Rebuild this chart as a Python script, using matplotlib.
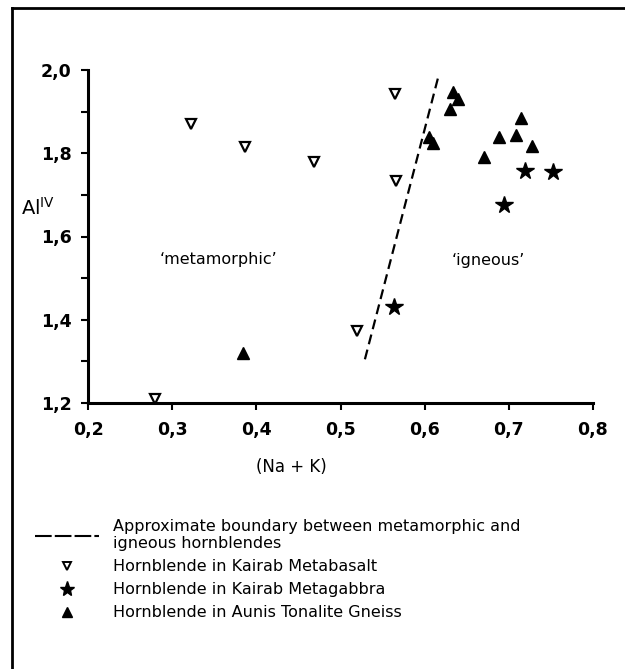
import numpy as np
import matplotlib
matplotlib.use("Agg")
import matplotlib.pyplot as plt
from matplotlib.lines import Line2D
from matplotlib.ticker import FuncFormatter, MultipleLocator

plt.rcParams['font.family'] = ['DejaVu Sans']

# --- data ---
basalt_x = [0.280, 0.322, 0.386, 0.468, 0.565, 0.566, 0.520]
basalt_y = [1.210, 1.870, 1.814, 1.778, 1.942, 1.733, 1.373]

gabbro_x = [0.563, 0.694, 0.719, 0.753]
gabbro_y = [1.430, 1.675, 1.758, 1.756]

gneiss_x = [0.384, 0.634, 0.640, 0.630, 0.605, 0.610, 0.715, 0.688, 0.709, 0.727, 0.670]
gneiss_y = [1.320, 1.948, 1.930, 1.906, 1.838, 1.824, 1.884, 1.838, 1.844, 1.818, 1.792]

boundary_x = [0.529, 0.617]
boundary_y = [1.305, 1.990]

x_ticks = [0.2, 0.3, 0.4, 0.5, 0.6, 0.7, 0.8]
y_ticks = [1.2, 1.4, 1.6, 1.8, 2.0]

W, H = 625, 669
fig = plt.figure(figsize=(W / 100, H / 100), dpi=100)
ax = fig.add_axes([88 / W, 1 - 403 / H, (593 - 88) / W, (403 - 70) / H])

ax.plot(boundary_x, boundary_y, color='k', lw=1.6, ls=(0, (4.5, 2.5)))
ax.plot(basalt_x, basalt_y, ls='none', marker='v', ms=7, mfc='white',
        mec='k', mew=1.6, clip_on=False)
ax.plot(gabbro_x, gabbro_y, ls='none', marker='*', ms=13, color='k', clip_on=False)
ax.plot(gneiss_x, gneiss_y, ls='none', marker='^', ms=8, color='k', clip_on=False)

ax.text(0.285, 1.545, '\u2018metamorphic\u2019', fontsize=11.5, va='center', ha='left')
ax.text(0.632, 1.542, '\u2018igneous\u2019', fontsize=11.5, va='center', ha='left')

ax.set_xlim(0.2, 0.8)
ax.set_ylim(1.2, 2.0)
ax.set_xticks(x_ticks)
ax.set_yticks(y_ticks)
ax.yaxis.set_minor_locator(MultipleLocator(0.1))
comma = FuncFormatter(lambda v, p: f'{v:.1f}'.replace('.', ','))
ax.xaxis.set_major_formatter(comma)
ax.yaxis.set_major_formatter(comma)

for s in ['top', 'right']:
    ax.spines[s].set_visible(False)
for s in ['left', 'bottom']:
    ax.spines[s].set_linewidth(2.2)

ax.tick_params(axis='both', which='major', direction='out', length=5, width=1.5,
               labelsize=12.5)
ax.tick_params(axis='y', which='minor', direction='out', length=5, width=1.5)
ax.tick_params(axis='y', which='major', pad=7)
ax.tick_params(axis='x', which='major', pad=8)
for lab in ax.get_xticklabels() + ax.get_yticklabels():
    lab.set_fontweight('bold')

ax.set_xlabel('(Na + K)', fontsize=12)
ax.xaxis.set_label_coords((291 - 88) / 505, -0.165)

fig.text(21 / W, 1 - 208 / H, r'Al$^{\mathrm{IV}}$', fontsize=14,
         ha='left', va='center')

# legend
handles = [
    Line2D([], [], color='k', lw=1.5, ls=(0, (8, 1.5))),
    Line2D([], [], ls='none', marker='v', ms=6, mfc='white', mec='k', mew=1.4),
    Line2D([], [], ls='none', marker='*', ms=11, color='k'),
    Line2D([], [], ls='none', marker='^', ms=7, color='k'),
]
labels = [
    'Approximate boundary between metamorphic and\nigneous hornblendes',
    'Hornblende in Kairab Metabasalt',
    'Hornblende in Kairab Metagabbra',
    'Hornblende in Aunis Tonalite Gneiss',
]
fig.legend(handles, labels, loc='upper left', bbox_to_anchor=(35 / W, 1 - 519 / H),
           frameon=False, fontsize=11.5, handlelength=4.0, handletextpad=0.9,
           labelspacing=0.5, borderpad=0, borderaxespad=0)

# scanned page frame (top and left edges)
fig.add_artist(Line2D([12 / W, 12 / W], [0, 1 - 8 / H], transform=fig.transFigure,
                      color='k', lw=2))
fig.add_artist(Line2D([12 / W, 1], [1 - 8 / H, 1 - 8 / H], transform=fig.transFigure,
                      color='k', lw=2))

fig.savefig('out.png', dpi=100)
